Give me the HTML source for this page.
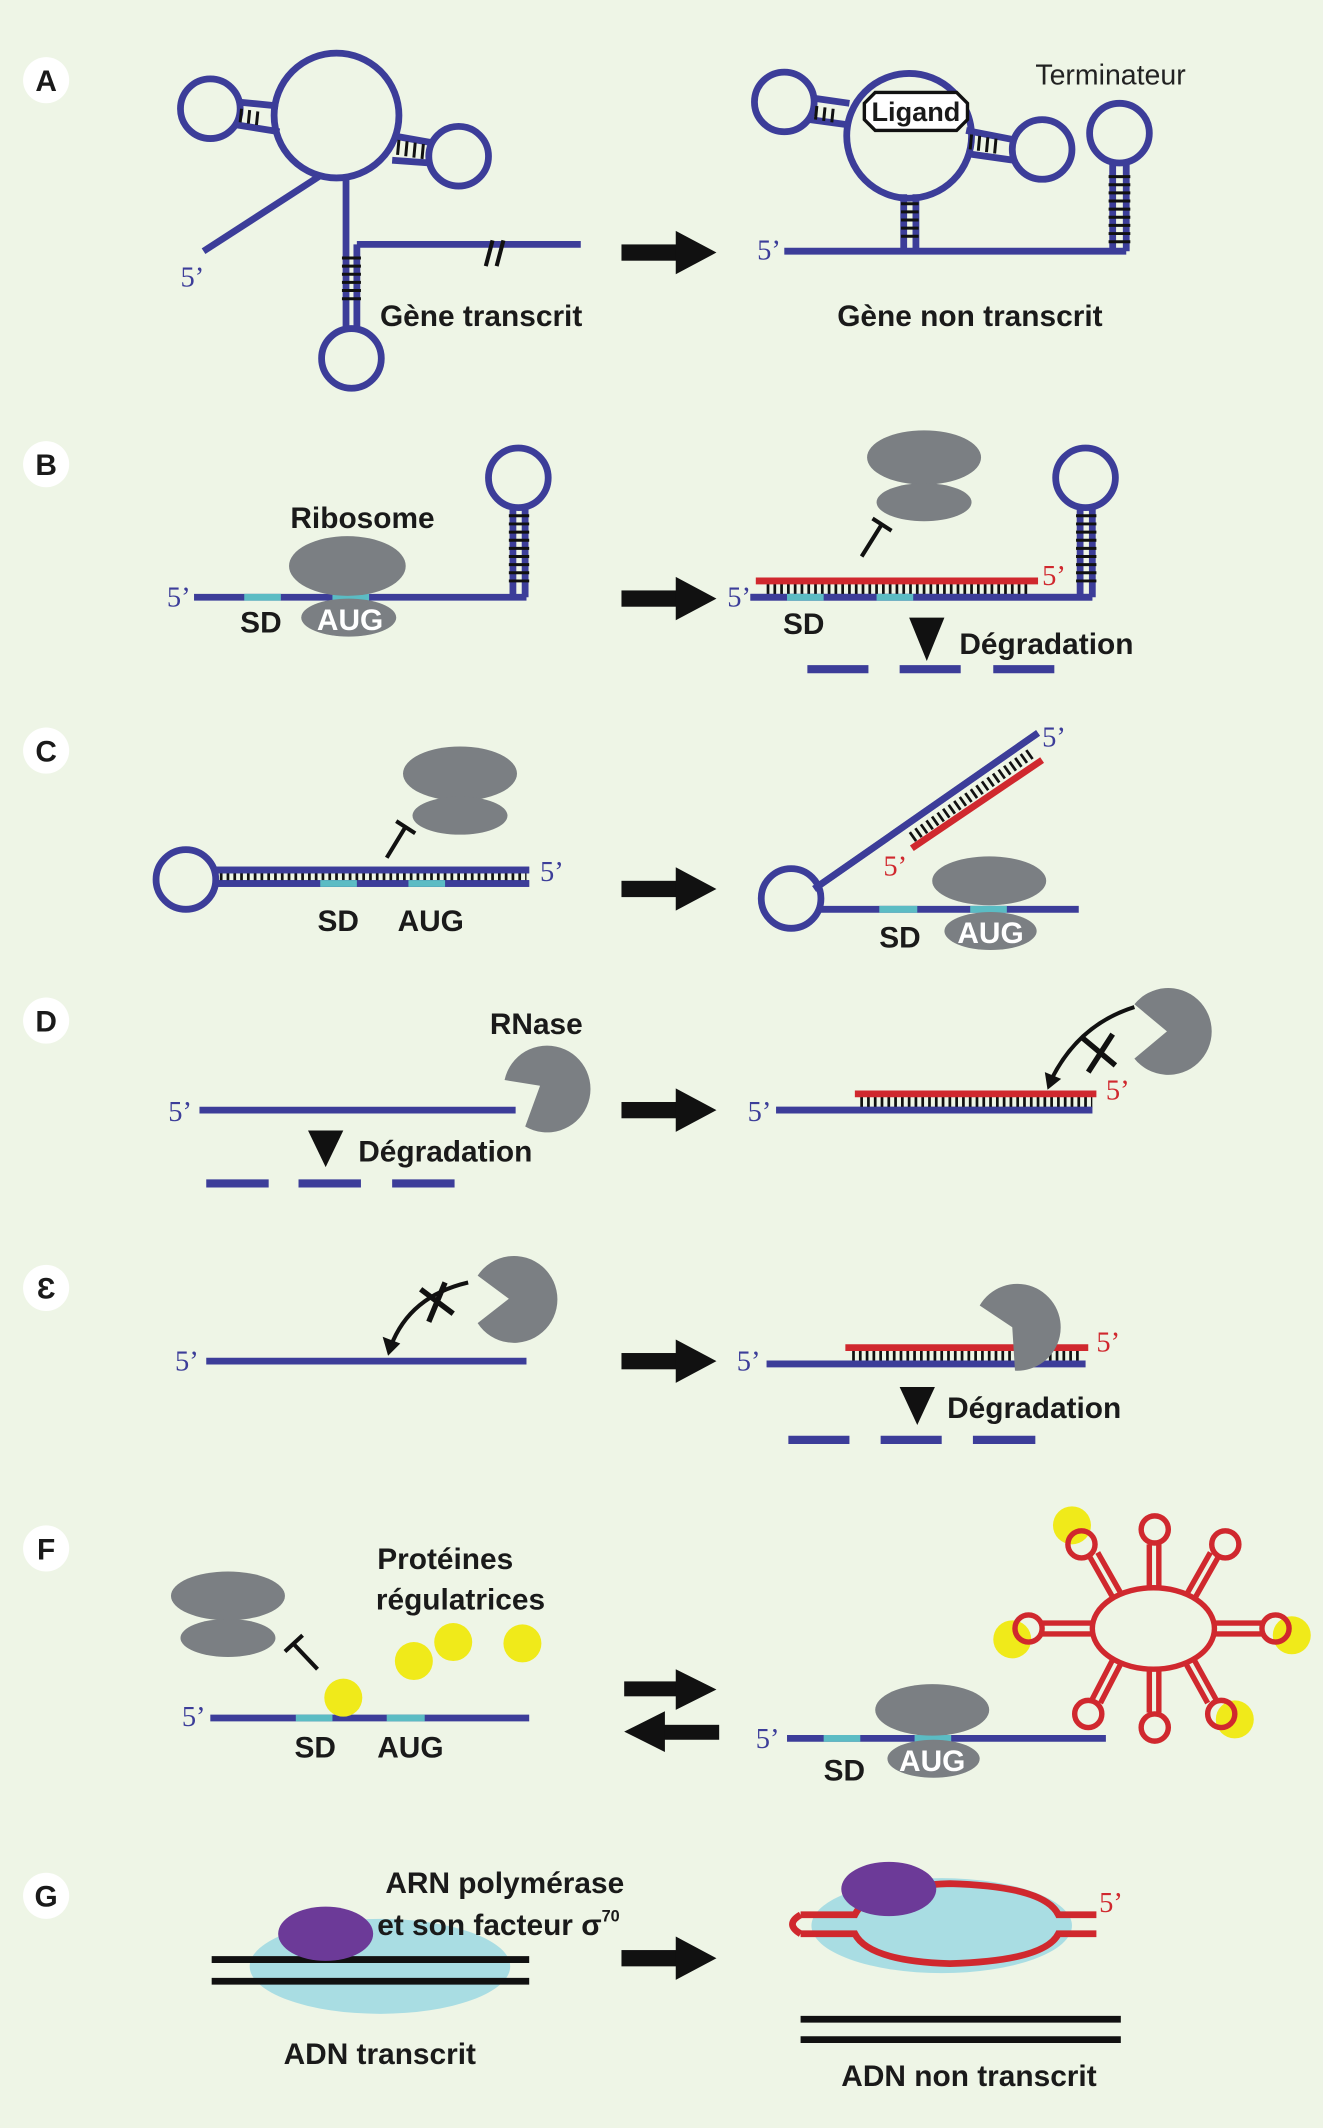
<!DOCTYPE html>
<html><head><meta charset="utf-8"><style>
html,body{margin:0;padding:0;background:#eef5e6}
svg{display:block}
text{font-family:"Liberation Sans Narrow","Liberation Sans",sans-serif;font-weight:bold;fill:#1a1a1a}
.p{font-family:"Liberation Serif",serif;font-weight:normal;font-size:21px}
.L{font-size:22px}
</style></head><body>
<svg width="1323" height="2128" viewBox="0 0 975 1568" xmlns="http://www.w3.org/2000/svg">
<defs>
<g id="arr"><rect x="458" y="-6" width="44" height="12" fill="#111"/><polygon points="498,-16 528,0 498,16" fill="#111"/></g>
</defs>
<rect width="975" height="1568" fill="#eef5e6"/>
<g fill="#fff">
<circle cx="34" cy="59" r="17"/><circle cx="34" cy="342" r="17"/><circle cx="34" cy="553" r="17"/><circle cx="34" cy="752" r="17"/><circle cx="34" cy="949" r="17"/><circle cx="34" cy="1141" r="17"/><circle cx="34" cy="1397" r="17"/></g>
<g class="L" text-anchor="middle">
<text x="34" y="67">A</text><text x="34" y="350">B</text><text x="34" y="561">C</text><text x="34" y="760">D</text><text x="34" y="957">Ɛ</text><text x="34" y="1149">F</text><text x="34" y="1405">G</text></g>

<use href="#arr" y="186"/><use href="#arr" y="441"/><use href="#arr" y="655"/><use href="#arr" y="818"/><use href="#arr" y="1003"/><use href="#arr" y="1443"/>
<rect x="460" y="1239" width="42" height="11" fill="#111"/><polygon points="498,1230 528,1245 498,1260" fill="#111"/>
<rect x="488" y="1271" width="42" height="11" fill="#111"/><polygon points="490,1261 460,1276 490,1291" fill="#111"/>

<g fill="none" stroke="#3c3d99" stroke-width="5">
<circle cx="248" cy="85" r="46"/>
<circle cx="155" cy="80" r="22"/>
<path d="M175 75 L205 78 M175 92 L206 97"/>
<circle cx="338" cy="115" r="22"/>
<path d="M290 100 L318 105 M289 118 L317 120"/>
<path d="M150 185 L235 130"/>
<path d="M255 130 L255 243 M263 180 L263 243 M263 180 L428 180"/>
<circle cx="259" cy="264" r="22"/>
<circle cx="670" cy="100" r="46"/>
<circle cx="578" cy="75" r="22"/>
<path d="M598 72 L626 76 M597 88 L626 92"/>
<circle cx="768" cy="110" r="22"/>
<path d="M712 96 L748 103 M712 113 L747 118"/>
<path d="M666 143 L666 185 M675 143 L675 185 M578 185 L830 185 M820 120 L820 185 M830 120 L830 185"/>
<circle cx="825" cy="98" r="22"/>
<path d="M143 440 L388 440 M378 440 L378 372 M387 440 L387 372"/>
<circle cx="382" cy="352" r="22"/>
<path d="M553 440 L805 440 M796 440 L796 372 M805 440 L805 372"/>
<circle cx="800" cy="352" r="22"/>
<circle cx="137" cy="648" r="22"/>
<path d="M157 641 L390 641 M157 651 L390 651"/>
<circle cx="583" cy="662" r="22"/>
<path d="M603 670 L795 670 M600 655 L765 540"/>
<path d="M147 818 L380 818 M572 818 L805 818 M152 1003 L388 1003 M565 1005 L800 1005 M155 1266 L390 1266 M580 1281 L815 1281"/>
</g>
<g stroke="#3c3d99" stroke-width="6">
<path d="M595 493 L640 493 M663 493 L708 493 M732 493 L777 493"/>
<path d="M152 872 L198 872 M220 872 L266 872 M289 872 L335 872"/>
<path d="M581 1061 L626 1061 M649 1061 L694 1061 M717 1061 L763 1061"/>
</g>
<g stroke="#111" stroke-width="2.2">
<path d="M178 80 L177 90 M184 81 L183 91 M190 82 L189 92"/>
<path d="M294 103 L293 114 M300 104 L299 115 M306 105 L305 116 M312 106 L311 117"/>
<path d="M252 190 L266 190 M252 196 L266 196 M252 202 L266 202 M252 208 L266 208 M252 214 L266 214 M252 220 L266 220"/>
<path d="M602 78 L601 88 M608 79 L607 89 M614 80 L613 90"/>
<path d="M716 99 L715 110 M722 100 L721 111 M728 101 L727 112 M734 102 L733 113"/>
<path d="M664 150 L677 150 M664 156 L677 156 M664 162 L677 162 M664 168 L677 168 M664 174 L677 174"/>
<path d="M817 130 L833 130 M817 136 L833 136 M817 142 L833 142 M817 148 L833 148 M817 154 L833 154 M817 160 L833 160 M817 166 L833 166 M817 172 L833 172 M817 178 L833 178"/>
<path d="M375 380 L390 380 M375 386 L390 386 M375 392 L390 392 M375 398 L390 398 M375 404 L390 404 M375 410 L390 410 M375 416 L390 416 M375 422 L390 422 M375 428 L390 428"/>
<path d="M793 380 L808 380 M793 386 L808 386 M793 392 L808 392 M793 398 L808 398 M793 404 L808 404 M793 410 L808 410 M793 416 L808 416 M793 422 L808 422 M793 428 L808 428"/>
<path d="M363 177 L358 196 M371 177 L366 196" stroke-width="3"/>
</g>
<g stroke="#111" stroke-width="8" stroke-dasharray="2 3">
<path d="M565 434 L760 434"/>
<path d="M162 646 L388 646"/>
<path d="M634 812 L805 812"/>
<path d="M628 999 L798 999"/>
<path d="M672 617 L760 555"/>
</g>
<g stroke="#d0282e" stroke-width="5" fill="none">
<path d="M557 428 L765 428"/>
<path d="M672 625 L768 560"/>
<path d="M630 806 L808 806"/>
<path d="M623 993 L802 993"/>
</g>
<g stroke="#3c3d99" stroke-width="5" fill="none">
<path d="M553 440 L805 440 M157 641 L390 641 M157 651 L390 651 M572 818 L805 818 M565 1005 L800 1005 M600 655 L765 540"/>
</g>
<g stroke="#5bbcc4" stroke-width="5">
<path d="M180 440 L207 440 M245 440 L272 440 M580 440 L607 440 M646 440 L673 440 M236 651 L263 651 M301 651 L328 651 M648 670 L676 670 M715 670 L742 670 M218 1266 L245 1266 M285 1266 L313 1266 M607 1281 L634 1281 M674 1281 L701 1281"/>
</g>
<g fill="#7b7f83">
<ellipse cx="256" cy="417" rx="43" ry="22"/><ellipse cx="257" cy="455" rx="35" ry="14"/>
<ellipse cx="681" cy="337" rx="42" ry="20"/><ellipse cx="681" cy="370" rx="35" ry="14"/>
<ellipse cx="339" cy="570" rx="42" ry="20"/><ellipse cx="339" cy="601" rx="35" ry="14"/>
<ellipse cx="729" cy="649" rx="42" ry="18"/><ellipse cx="730" cy="686" rx="34" ry="14"/>
<ellipse cx="168" cy="1176" rx="42" ry="18"/><ellipse cx="168" cy="1207" rx="35" ry="14"/>
<ellipse cx="687" cy="1260" rx="42" ry="19"/><ellipse cx="688" cy="1296" rx="34" ry="14"/>
<path d="M398 800 L372 805 A32 32 0 1 1 398 832 Z" transform="rotate(20 398 800)"/>
<path d="M860 760 L836 740 A32 32 0 1 1 836 780 Z"/>
<path d="M375 957 L352 940 A32 32 0 1 1 352 975 Z"/>
<path d="M746 978 L722 962 A32 32 0 1 1 748 1010 Z"/>
</g>
<g stroke="#111" stroke-width="3" fill="none">
<path d="M635 410 L650 386 M643 382 L657 391"/>
<path d="M285 632 L299 609 M292 605 L306 614"/>
<path d="M234 1230 L216 1211 M210 1217 L223 1205"/>
<path d="M836 742 Q795 755 775 795"/>
<path d="M345 945 Q302 955 288 992"/>
<path d="M798 765 L822 785 M820 762 L802 790" stroke-width="4"/>
<path d="M310 950 L334 968 M328 945 L316 974" stroke-width="4"/>
</g>
<polygon points="770,790 782,795 772,803" fill="#111"/>
<polygon points="282,985 295,990 286,999" fill="#111"/>
<g fill="#111">
<polygon points="670,455 696,455 683,487"/>
<polygon points="227,833 253,833 240,860"/>
<polygon points="663,1022 689,1022 676,1050"/>
</g>
<g fill="#f0ea1a">
<circle cx="253" cy="1251" r="14"/><circle cx="305" cy="1224" r="14"/><circle cx="334" cy="1210" r="14"/><circle cx="385" cy="1211" r="14"/>
<circle cx="790" cy="1124" r="14"/><circle cx="746" cy="1208" r="14"/><circle cx="952" cy="1205" r="14"/><circle cx="910" cy="1267" r="14"/>
</g>
<g stroke="#d0282e" stroke-width="4" fill="none">
<ellipse cx="850" cy="1200" rx="45" ry="30"/>
<path d="M847 1170 L847 1138 M854 1170 L854 1138"/>
<path d="M820 1177 L803 1147 M826 1174 L809 1144"/>
<path d="M875 1174 L892 1144 M881 1177 L898 1147"/>
<path d="M805 1196 L768 1196 M805 1204 L768 1204"/>
<path d="M895 1196 L930 1196 M895 1204 L930 1204"/>
<path d="M820 1223 L805 1252 M826 1226 L811 1255"/>
<path d="M847 1230 L847 1262 M854 1230 L854 1262"/>
<path d="M874 1226 L890 1255 M880 1223 L896 1252"/>
<circle cx="851" cy="1127" r="10"/><circle cx="797" cy="1138" r="10"/><circle cx="903" cy="1138" r="10"/>
<circle cx="758" cy="1200" r="10"/><circle cx="940" cy="1200" r="10"/>
<circle cx="802" cy="1263" r="10"/><circle cx="851" cy="1273" r="10"/><circle cx="900" cy="1263" r="10"/>
</g>
<ellipse cx="280" cy="1449" rx="96" ry="35" fill="#a9dde3"/>
<path d="M156 1444 L390 1444 M156 1460 L390 1460 M590 1488 L826 1488 M590 1503 L826 1503" stroke="#111" stroke-width="5"/>
<ellipse cx="240" cy="1425" rx="35" ry="20" fill="#6c3a98"/>
<ellipse cx="694" cy="1419" rx="96" ry="35" fill="#a9dde3"/>
<g stroke="#d0282e" stroke-width="5" fill="none">
<path d="M590 1411 L630 1411 Q640 1390 700 1388 Q770 1390 780 1411 L808 1411"/>
<path d="M590 1425 L630 1425 Q640 1445 700 1447 Q770 1445 780 1425 L808 1425"/>
<path d="M590 1411 Q578 1418 590 1425"/>
</g>
<ellipse cx="655" cy="1392" rx="35" ry="20" fill="#6c3a98"/>
<polygon points="645,68 705,68 713,76 713,88 705,96 645,96 637,88 637,76" fill="#fff" stroke="#111" stroke-width="2.5"/>
<g class="L">
<text x="675" y="89" text-anchor="middle" font-size="20">Ligand</text>
<text x="280" y="240">Gène transcrit</text>
<text x="617" y="240">Gène non transcrit</text>
<text x="214" y="389">Ribosome</text>
<text x="177" y="466">SD</text>
<text x="577" y="467">SD</text>
<text x="707" y="482">Dégradation</text>
<text x="234" y="686">SD</text><text x="293" y="686">AUG</text>
<text x="648" y="698">SD</text>
<text x="361" y="762">RNase</text>
<text x="264" y="856">Dégradation</text>
<text x="698" y="1045">Dégradation</text>
<text x="278" y="1156">Protéines</text>
<text x="277" y="1186">régulatrices</text>
<text x="217" y="1295">SD</text><text x="278" y="1295">AUG</text>
<text x="607" y="1312">SD</text>
<text x="284" y="1395">ARN polymérase</text>
<text x="278" y="1426">et son facteur σ<tspan font-size="12" dy="-10">70</tspan></text>
<text x="209" y="1521">ADN transcrit</text>
<text x="620" y="1537">ADN non transcrit</text>
</g>
<g class="L" text-anchor="middle">
<text x="258" y="464" style="fill:#fff">AUG</text>
<text x="730" y="695" style="fill:#fff">AUG</text>
<text x="687" y="1305" style="fill:#fff">AUG</text>
</g>
<text x="763" y="62" style="font-family:'Liberation Sans',sans-serif;font-weight:normal;font-size:21px;fill:#222">Terminateur</text>
<g>
<text x="133" y="211" style="fill:#3c3d99" class="p">5’</text>
<text x="558" y="191" style="fill:#3c3d99" class="p">5’</text>
<text x="123" y="447" style="fill:#3c3d99" class="p">5’</text>
<text x="536" y="447" style="fill:#3c3d99" class="p">5’</text>
<text x="768" y="431" style="fill:#d0282e" class="p">5’</text>
<text x="398" y="649" style="fill:#3c3d99" class="p">5’</text>
<text x="768" y="550" style="fill:#3c3d99" class="p">5’</text>
<text x="651" y="645" style="fill:#d0282e" class="p">5’</text>
<text x="124" y="826" style="fill:#3c3d99" class="p">5’</text>
<text x="551" y="826" style="fill:#3c3d99" class="p">5’</text>
<text x="815" y="810" style="fill:#d0282e" class="p">5’</text>
<text x="129" y="1010" style="fill:#3c3d99" class="p">5’</text>
<text x="543" y="1010" style="fill:#3c3d99" class="p">5’</text>
<text x="808" y="996" style="fill:#d0282e" class="p">5’</text>
<text x="134" y="1272" style="fill:#3c3d99" class="p">5’</text>
<text x="557" y="1288" style="fill:#3c3d99" class="p">5’</text>
<text x="810" y="1409" style="fill:#d0282e" class="p">5’</text>
</g>
</svg>
</body></html>
